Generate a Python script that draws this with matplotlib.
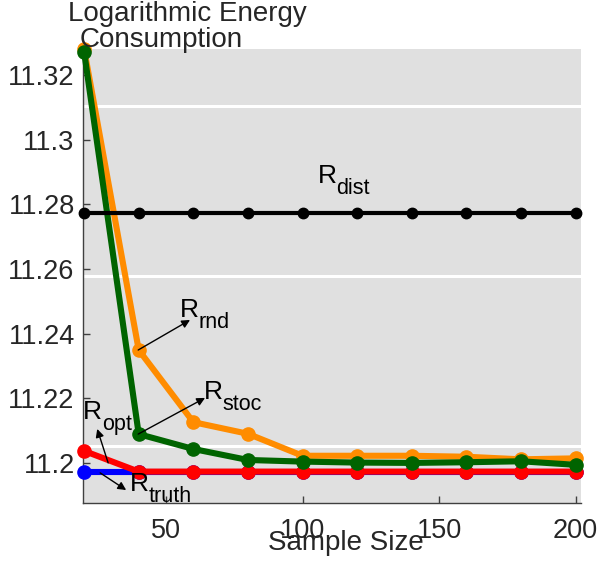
import matplotlib
matplotlib.use('Agg')
import matplotlib.pyplot as plt

plt.rcParams['font.family'] = ['Liberation Sans', 'DejaVu Sans']

# ── data ─────────────────────────────────────────────────────────────────────
sample_size = [20, 40, 60, 80, 100, 120, 140, 160, 180, 200]
r_dist = [11.2773] * 10
r_truth = [11.1973] * 10
r_opt = [11.2037, 11.1973, 11.1973, 11.1973, 11.1973,
         11.1973, 11.1973, 11.1973, 11.1973, 11.1973]
r_rnd = [11.3280, 11.2349, 11.2126, 11.2090, 11.2022,
         11.2022, 11.2022, 11.2019, 11.2011, 11.2014]
r_stoc = [11.3271, 11.2089, 11.2043, 11.2009, 11.2004,
          11.2001, 11.2000, 11.2002, 11.2005, 11.1994]

y_ticks = [11.2, 11.22, 11.24, 11.26, 11.28, 11.3, 11.32]
y_ticklabels = ['11.2', '11.22', '11.24', '11.26', '11.28', '11.3', '11.32']
x_ticks = [50, 100, 150, 200]
# rendering gaps in the grey background of the original
gap_lines = [11.3104, 11.2578, 11.2052]

txt = '#262626'
fig = plt.figure(figsize=(5.99, 5.63), dpi=100)
ax = fig.add_axes([0.1386, 0.1066, 0.8314, 0.8064])
ax.set_facecolor('#e0e0e0')

for g in gap_lines:
    ax.axhline(g, color='white', lw=2.2, zorder=1)

kw = dict(clip_on=False, zorder=3)
ax.plot(sample_size, r_truth, color='#0000ff', lw=4.4, marker='o', ms=9.5, **kw)
ax.plot(sample_size, r_opt, color='#ff0000', lw=4.4, marker='o', ms=9.5, **kw)
ax.plot(sample_size, r_rnd, color='#ff8c00', lw=4.4, marker='o', ms=9.5, **kw)
ax.plot(sample_size, r_stoc, color='#006400', lw=4.4, marker='o', ms=9.5, **kw)
ax.plot(sample_size, r_dist, color='black', lw=3.0, marker='o', ms=7.5, **kw)

ax.set_xlim(19.6, 202)
ax.set_ylim(11.1876, 11.328)
ax.set_xticks(x_ticks)
ax.set_yticks(y_ticks)
ax.set_yticklabels(y_ticklabels)
ax.tick_params(direction='in', length=5, width=1, color='#404040',
               labelsize=19.5, labelcolor=txt)
ax.tick_params(axis='x', pad=11)
ax.tick_params(axis='y', pad=6)
for s in ['top', 'right']:
    ax.spines[s].set_visible(False)
for s in ['left', 'bottom']:
    ax.spines[s].set_color('#404040')
    ax.spines[s].set_linewidth(1)


def rlabel(x, y, sub):
    ax.text(x, y, 'R', fontsize=19, color='black', va='baseline', ha='left', zorder=5)
    ax.annotate(sub, xy=(x, y), xytext=(13.5, -8), textcoords='offset points',
                fontsize=15.5, color='black', va='baseline', ha='left', zorder=5)


def arrow(x0, y0, x1, y1):
    ax.annotate('', xy=(x1, y1), xytext=(x0, y0),
                arrowprops=dict(arrowstyle='-|>', color='black', lw=1,
                                mutation_scale=12, shrinkA=0, shrinkB=0),
                zorder=5)


rlabel(105.6, 11.2866, 'dist')
rlabel(55.1, 11.2451, 'rnd')
arrow(39.8, 11.2349, 58.8, 11.2442)
rlabel(63.9, 11.2198, 'stoc')
arrow(39.8, 11.2089, 64.3, 11.2201)
rlabel(19.6, 11.2136, 'opt')
arrow(28.8, 11.2000, 24.8, 11.2105)
rlabel(36.8, 11.1913, 'truth')
arrow(25.9, 11.1969, 35.4, 11.1916)

fig.text(68 / 599, 1 - 21 / 563, 'Logarithmic Energy', fontsize=20,
         color=txt, ha='left', va='baseline')
fig.text(80 / 599, 1 - 47 / 563, 'Consumption', fontsize=20,
         color=txt, ha='left', va='baseline')
fig.text(346 / 599, 1 - 550 / 563, 'Sample Size', fontsize=20,
         color=txt, ha='center', va='baseline')

fig.savefig('out.png', dpi=100)
